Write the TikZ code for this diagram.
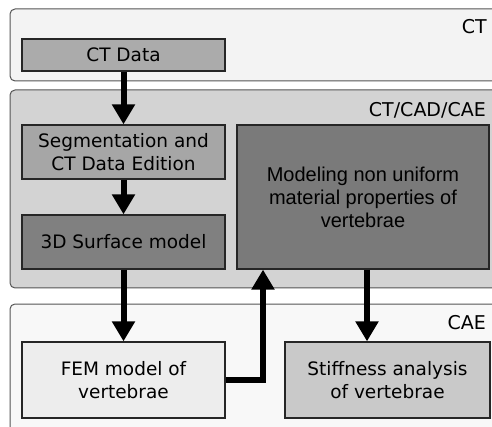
\documentclass[tikz,border=0pt]{standalone}
\usepackage{fontspec}
\setmainfont{DejaVu Sans}
\newfontfamily\arialfont{Liberation Sans}
\usetikzlibrary{arrows.meta}
\definecolor{paneline}{HTML}{555555}
\definecolor{ctpanel}{HTML}{F3F3F3}
\definecolor{midpanel}{HTML}{D3D3D3}
\definecolor{caepanel}{HTML}{F8F8F8}
\tikzset{
  panel/.style={draw=paneline, line width=1pt, rounded corners=5pt},
  panellabel/.style={anchor=base east, inner sep=0pt, font=\fontsize{19}{22}\selectfont},
  stepbox/.style={draw=black!85, line width=1.2pt, inner sep=0pt, align=center,
    font=\fontsize{18.5}{22.4}\selectfont},
  flow/.style={line width=6pt, -{Triangle[width=22pt,length=20pt]}},
}
\begin{document}
\begin{tikzpicture}[x=1pt,y=-1pt]
  \useasboundingbox (0,0) rectangle (492,427);
  \clip (0,0) rectangle (492,427);
  % stage panels, running past the right and bottom edges
  \draw[panel, fill=ctpanel] (10,9) rectangle (530,81);
  \draw[panel, fill=midpanel] (10,90) rectangle (530,288);
  \draw[panel, fill=caepanel] (10,304) rectangle (530,470);
  \node[panellabel] (lct) at (487,33.5) {CT};
  \node[panellabel] (lmid) at (486,116.5) {CT/CAD/CAE};
  \node[panellabel] (lcae) at (486,329.5) {CAE};
  % processing steps
  \node[stepbox, fill=black!33, minimum width=203pt, minimum height=32pt] (ct) at (123.5,55) {CT Data};
  \node[stepbox, fill=black!35, minimum width=203pt, minimum height=54pt] (seg) at (123.5,152) {Segmentation and\\CT Data Edition};
  \node[stepbox, fill=black!50, minimum width=203pt, minimum height=54pt] (surf) at (123.5,242) {3D Surface model};
  \node[stepbox, fill=black!52, minimum width=252pt, minimum height=144pt,
        font=\arialfont\fontsize{20}{23}\selectfont] (mod) at (363,197) {Modeling non uniform\\material properties of\\vertebrae};
  \node[stepbox, fill=black!7, minimum width=203pt, minimum height=76pt] (fem) at (123.5,380) {FEM model of\\vertebrae};
  \node[stepbox, fill=black!21, minimum width=205pt, minimum height=76pt] (stiff) at (387.5,380) {Stiffness analysis\\of vertebrae};
  % connector columns
  \coordinate (up) at (263,0);
  \coordinate (down) at (367,0);
  % flow arrows
  \draw[flow] (ct) -- (seg);
  \draw[flow] (seg) -- (surf);
  \draw[flow] (surf) -- (fem);
  \draw[flow] (fem.east) -| (mod.south -| up);
  \draw[flow] (mod.south -| down) -- (stiff.north -| down);
\end{tikzpicture}
\end{document}
